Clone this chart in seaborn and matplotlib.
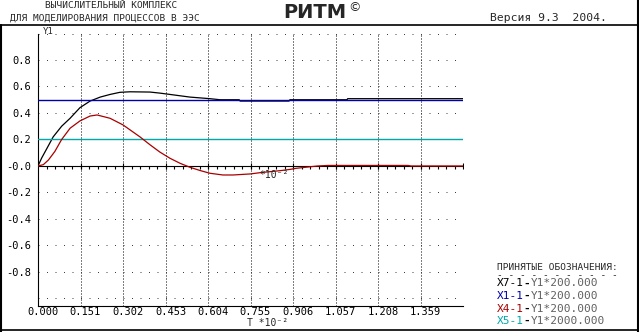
import numpy as np
import pandas as pd
import matplotlib
matplotlib.use("Agg")
import matplotlib.pyplot as plt
from matplotlib.lines import Line2D
from matplotlib.transforms import ScaledTranslation
import seaborn as sns

# Data (T in units of 1e-2)
t_x7 = [0.000, 0.013, 0.031, 0.054, 0.084, 0.114, 0.149, 0.185, 0.221, 0.256,
        0.291, 0.327, 0.398, 0.433, 0.469, 0.540, 0.611, 0.647, 0.715, 0.718,
        0.892, 0.895, 1.098, 1.100, 1.510]
y_x7 = [0.000, 0.060, 0.130, 0.220, 0.300, 0.360, 0.440, 0.490, 0.520, 0.540,
        0.556, 0.560, 0.558, 0.550, 0.540, 0.520, 0.508, 0.500, 0.500, 0.490,
        0.490, 0.500, 0.500, 0.508, 0.508]

t_x4 = [0.000, 0.019, 0.037, 0.060, 0.084, 0.114, 0.149, 0.185, 0.210, 0.256,
        0.302, 0.362, 0.398, 0.433, 0.469, 0.505, 0.540, 0.577, 0.611, 0.657,
        0.693, 0.755, 0.791, 0.862, 0.898, 0.916, 0.958, 0.994, 1.030, 1.315,
        1.325, 1.510]
y_x4 = [0.000, 0.010, 0.045, 0.110, 0.200, 0.285, 0.340, 0.377, 0.385, 0.360,
        0.310, 0.220, 0.160, 0.105, 0.058, 0.020, -0.010, -0.035, -0.055, -0.068,
        -0.068, -0.060, -0.050, -0.035, -0.025, -0.018, -0.008, 0.000, 0.004, 0.004,
        0.000, 0.000]

t_span = [0.000, 1.510]
y_x1 = [0.500, 0.500]
y_x5 = [0.200, 0.200]

x_ticks = [0.000, 0.151, 0.302, 0.453, 0.604, 0.755, 0.906, 1.057, 1.208, 1.359, 1.510]
x_tick_labels = ["0.000", "0.151", "0.302", "0.453", "0.604", "0.755",
                 "0.906", "1.057", "1.208", "1.359", ""]
y_ticks = [-0.8, -0.6, -0.4, -0.2, 0.0, 0.2, 0.4, 0.6, 0.8]
y_tick_labels = ["-0.8", "-0.6", "-0.4", "-0.2", "-0.0", "0.2", "0.4", "0.6", "0.8"]

legend_names = ["X7-1", "X1-1", "X4-1", "X5-1"]
legend_scales = ["Y1*200.000", "Y1*200.000", "Y1*200.000", "Y1*2000.000"]

BLACK = "#000000"
BLUE = "#0000a8"
RED = "#a80000"
CYAN = "#00a8a8"
GRAY = "#606060"
legend_colors = [BLACK, BLUE, RED, CYAN]

sns.set_theme(style="white")
plt.rcParams["font.family"] = ["DejaVu Sans Mono"]

W, H = 639, 332
fig = plt.figure(figsize=(W / 100, H / 100), dpi=100)
fig.patch.set_facecolor("white")


def px(x, y):
    return x / W, 1 - y / H


# axes box: x 38..463 px, y 33.5..306 px
ax = fig.add_axes([38 / W, (H - 306) / H, 425 / W, (306 - 33.5) / H])
ax.set_facecolor("white")
ax.set_xlim(0, 1.51)
ax.set_ylim(-1.057, 1.0)

# dotted grid
for k in range(1, 11):
    ax.axvline(0.151 * k, color=BLACK, lw=0.72, ls=(0, (1, 2)), zorder=1)
for k in range(1, 6):
    for s in (1, -1):
        ax.axhline(0.2 * k * s, color="#404040", lw=0.72, ls=(0, (1, 7.5)), zorder=1)

# middle axis at zero
ax.axhline(0, color=BLACK, lw=0.8, zorder=2)
maj = np.arange(1, 11) * 0.151
mnr = np.arange(1, 50) * 0.0302
ax.plot(maj, np.zeros_like(maj), ls="none", marker="|", ms=4.5, mew=0.8, color=BLACK, zorder=2)
ax.plot(mnr, np.zeros_like(mnr), ls="none", marker=3, ms=2.2, mew=0.8, color=BLACK, zorder=2)

# curves
sns.lineplot(x=t_x7, y=y_x7, color=BLACK, lw=0.9, estimator=None, sort=False, ax=ax, zorder=3)
sns.lineplot(x=t_span, y=y_x1, color=BLUE, lw=1.0, estimator=None, ax=ax, zorder=3)
sns.lineplot(x=t_x4, y=y_x4, color=RED, lw=0.9, estimator=None, sort=False, ax=ax, zorder=4)
sns.lineplot(x=t_span, y=y_x5, color=CYAN, lw=1.0, estimator=None, ax=ax, zorder=3)

# axes styling
for side in ("top", "right"):
    ax.spines[side].set_visible(False)
for side in ("left", "bottom"):
    ax.spines[side].set_color(BLACK)
    ax.spines[side].set_linewidth(0.8)

ax.set_xticks(x_ticks)
ax.set_xticklabels(x_tick_labels)
ax.set_xticks(np.arange(0, 51) * 0.0302, minor=True)
ax.set_yticks(y_ticks)
ax.set_yticklabels(y_tick_labels)
ax.set_yticks(np.arange(-25, 26) * 0.04, minor=True)
ax.tick_params(axis="x", which="major", direction="inout", length=5, width=0.8,
               color=BLACK, labelsize=7.5, pad=-1.5, labelcolor=BLACK)
ax.tick_params(axis="x", which="minor", direction="out", length=2, width=0.8, color=BLACK)
ax.tick_params(axis="y", which="major", direction="out", length=4, width=0.8,
               color=BLACK, labelsize=7.5, pad=1, labelcolor=BLACK)
ax.tick_params(axis="y", which="minor", direction="out", length=2.2, width=0.8, color=BLACK)
ax.set_xlabel("")
ax.set_ylabel("")
for lab in ax.get_xticklabels():
    lab.set_transform(lab.get_transform() + ScaledTranslation(5 / 100, 0, fig.dpi_scale_trans))

# axis annotations
fig.text(*px(43, 31), "Y1", fontsize=6.5, va="center", ha="left")
fig.text(*px(259, 175), "*10\u207b\u00b2", fontsize=7, va="center", ha="left")
fig.text(*px(247, 323.5), "T *10\u207b\u00b2", fontsize=7, va="center", ha="left")

# header
fig.text(*px(45, 6), "ВЫЧИСЛИТЕЛЬНЫЙ КОМПЛЕКС", fontsize=6.8, va="center", ha="left")
fig.text(*px(10, 18), "ДЛЯ МОДЕЛИРОВАНИЯ ПРОЦЕССОВ В ЭЭС", fontsize=6.8, va="center", ha="left")
fig.text(*px(283, 12), "РИТМ", fontsize=14, fontweight="bold", family="DejaVu Sans",
         va="center", ha="left")
fig.text(*px(348, 8), "\u00a9", fontsize=9, family="DejaVu Sans", va="center", ha="left")
fig.text(*px(490, 18), "Версия 9.3  2004.", fontsize=8.2, va="center", ha="left")

# frame
fig.add_artist(Line2D([0, 1], [1 - 25 / H] * 2, color=BLACK, lw=1.2))
fig.add_artist(Line2D([0, 1], [1 - 329.5 / H] * 2, color=BLACK, lw=1.2))
fig.add_artist(Line2D([1 / W] * 2, [1 - 25 / H, 0], color=BLACK, lw=1.5))
fig.add_artist(Line2D([637.5 / W] * 2, [1, 0], color=BLACK, lw=1.5))

# legend block
fig.text(*px(497, 267), "ПРИНЯТЫЕ ОБОЗНАЧЕНИЯ:", fontsize=6.8, va="center", ha="left")
fig.text(*px(497, 275), "- - - - - - - - - - -", fontsize=6.8, va="center", ha="left")
fs = 8.0
cw = 0.602 * fs * 100 / 72
for i, (name, scale, col) in enumerate(zip(legend_names, legend_scales, legend_colors)):
    yy = 283.5 + 12.5 * i
    fig.text(*px(497, yy), name, fontsize=fs, color=col, va="center", ha="left")
    fig.text(*px(497 + cw * len(name), yy), "-", fontsize=fs, color=BLACK,
             fontweight="bold", va="center", ha="left")
    fig.text(*px(497 + cw * (len(name) + 1), yy), scale, fontsize=fs, color=GRAY,
             va="center", ha="left")

fig.savefig("out.png", dpi=100, facecolor="white")
